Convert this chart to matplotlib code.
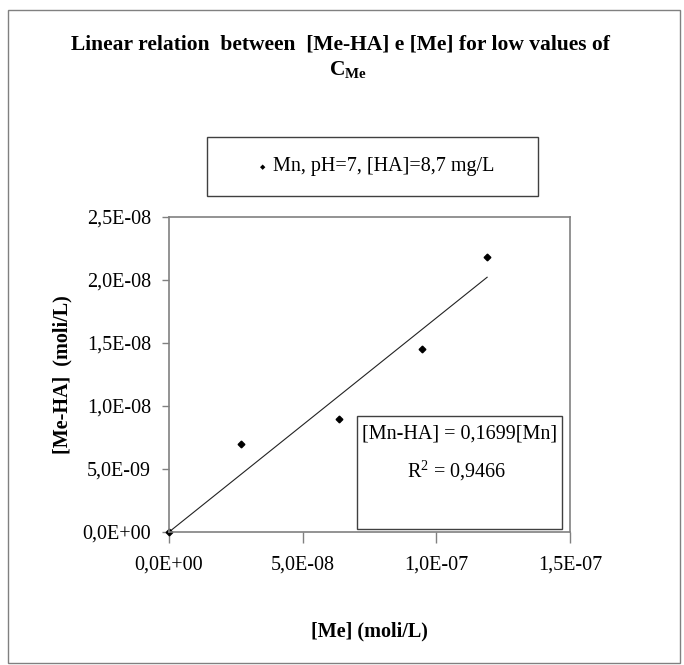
import matplotlib
matplotlib.use("Agg")
import matplotlib.pyplot as plt
from matplotlib.patches import Rectangle
from matplotlib.ticker import FuncFormatter, MultipleLocator

plt.rcParams['font.family'] = ['Liberation Serif', 'DejaVu Serif']
plt.rcParams['mathtext.fontset'] = 'custom'
plt.rcParams['mathtext.rm'] = 'Liberation Serif'
plt.rcParams['mathtext.bf'] = 'Liberation Serif:bold'

# data
me = [0.0, 2.7e-8, 6.35e-8, 9.45e-8, 1.19e-7]        # [Me] (moli/L)
me_ha = [0.0, 7.0e-9, 9.0e-9, 1.45e-8, 2.18e-8]     # [Me-HA] (moli/L)
slope = 0.1699
r2 = 0.9466
series_name = "Mn, pH=7, [HA]=8,7 mg/L"

W, H = 684, 665
fig = plt.figure(figsize=(W / 100, H / 100), dpi=100)

# outer frame of the chart
fig.patches.append(Rectangle((8 / W, 2 / H), 672 / W, 653 / H, transform=fig.transFigure,
                             fill=False, edgecolor='#808080', linewidth=1))

ax = fig.add_axes([169 / W, 1 - 532 / H, 401 / W, 315 / H])
for s in ax.spines.values():
    s.set_color('#808080')
    s.set_linewidth(1.2)

fit_x = [0.0, max(me)]
fit_y = [slope * v for v in fit_x]
ax.plot(fit_x, fit_y, color='#222222', linewidth=0.8)
ax.plot(me, me_ha, linestyle='none', marker='D', markersize=3.4, color='black', clip_on=False)

ax.set_xlim(0, 1.5e-7)
ax.set_ylim(0, 2.5e-8)
ax.xaxis.set_major_locator(MultipleLocator(5e-8))
ax.yaxis.set_major_locator(MultipleLocator(5e-9))
fmt = FuncFormatter(lambda v, p: f"{v:.1E}".replace('.', ','))
ax.xaxis.set_major_formatter(fmt)
ax.yaxis.set_major_formatter(fmt)
ax.tick_params(axis='x', direction='out', length=8, width=1, color='#808080', labelsize=14.5, pad=9)
ax.tick_params(axis='y', direction='out', length=5, width=1, color='#808080', labelsize=14.5, pad=8)

ax.set_xlabel("[Me] (moli/L)", fontsize=14.5, fontweight='bold', labelpad=34)
ax.set_ylabel("[Me-HA]  (moli/L)", fontsize=14.5, fontweight='bold', labelpad=7)

# equation box
fig.patches.append(Rectangle((357 / W, 1 - 529 / H), 205 / W, 113 / H, transform=fig.transFigure,
                             fill=False, edgecolor='#404040', linewidth=1))
fig.text(460 / W, 1 - 434 / H, "[Mn-HA] = " + f"{slope}".replace('.', ',') + "[Mn]",
         fontsize=14.5, ha='center', va='center')
fig.text(457 / W, 1 - 471 / H, "R$^2$ = " + f"{r2}".replace('.', ','),
         fontsize=14.5, ha='center', va='center')

# legend box
fig.patches.append(Rectangle((207 / W, 1 - 196 / H), 331 / W, 59 / H, transform=fig.transFigure,
                             fill=False, edgecolor='#404040', linewidth=1))
fig.text(263 / W, 1 - 167 / H, "\u25c6", fontsize=5, ha='center', va='center', family='DejaVu Sans')
fig.text(273 / W, 1 - 166 / H, series_name, fontsize=14.5, ha='left', va='center')

# title
fig.text(340 / W, 1 - 44 / H, "Linear relation  between  [Me-HA] e [Me] for low values of",
         fontsize=15.5, fontweight='bold', ha='center', va='center')
fig.text(348 / W, 1 - 70 / H, r"$\mathbf{C_{Me}}$", fontsize=15.5, ha='center', va='center')

fig.savefig("out.png", dpi=100)
